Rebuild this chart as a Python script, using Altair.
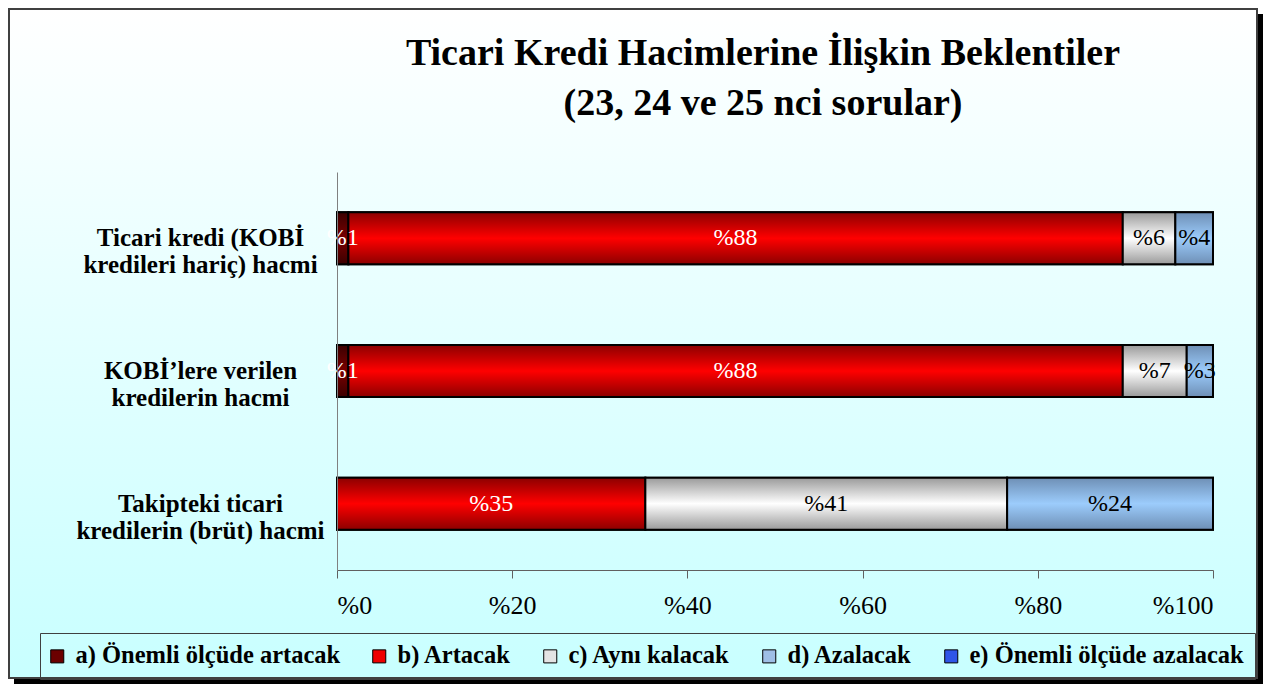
import altair as alt
import pandas as pd

# ---- data ----
rows = [
    "Ticari kredi (KOBİ|kredileri hariç) hacmi",
    "KOBİ’lere verilen|kredilerin hacmi",
    "Takipteki ticari|kredilerin (brüt) hacmi",
]
categories = [
    "a) Önemli ölçüde artacak",
    "b) Artacak",
    "c) Aynı kalacak",
    "d) Azalacak",
    "e) Önemli ölçüde azalacak",
]
a_vals = [1.3, 1.3, 0.0]
b_vals = [88.4, 88.4, 35.2]
c_vals = [6.0, 7.3, 41.3]
d_vals = [4.3, 3.0, 23.5]
e_vals = [0.0, 0.0, 0.0]
x_ticks = [0, 20, 40, 60, 80, 100]
title_line1 = "Ticari Kredi Hacimlerine İlişkin Beklentiler"
title_line2 = "(23, 24 ve 25 nci sorular)"

legend_colors = ["#6b0000", "#ee0000", "#e4e4e4", "#9fbfe6", "#2f55e8"]
grad_colors = [("#3a0000", "#7a0000"), ("#8c0000", "#ff0000"), ("#9a9a9a", "#ffffff"),
               ("#6e8fb5", "#9cccfc"), ("#1a3aa0", "#3366ff")]

series = [a_vals, b_vals, c_vals, d_vals, e_vals]
records = []
for ci, (cat, vals) in enumerate(zip(categories, series)):
    for ri, row in enumerate(rows):
        if vals[ri] > 0:
            records.append({"row": row, "cat": cat, "order": ci, "value": vals[ri]})
df = pd.DataFrame(records)

SERIF = "Liberation Serif"


def grad(edge, mid):
    return alt.LinearGradient(
        gradient="linear", x1=0, y1=0, x2=0, y2=1,
        stops=[alt.GradientStop(color=edge, offset=0),
               alt.GradientStop(color=mid, offset=0.5),
               alt.GradientStop(color=edge, offset=1)],
    )


one = pd.DataFrame({"k": [0]})
shadow = alt.Chart(one).mark_rect(fill="black").encode(
    x=alt.value(-323), x2=alt.value(926), y=alt.value(-158), y2=alt.value(512))
frame = alt.Chart(one).mark_rect(
    fill=alt.LinearGradient(gradient="linear", x1=0, y1=0, x2=0, y2=1,
                            stops=[alt.GradientStop(color="#ffffff", offset=0),
                                   alt.GradientStop(color="#c8ffff", offset=1)]),
    stroke="#404040", strokeWidth=2,
).encode(x=alt.value(-328), x2=alt.value(920), y=alt.value(-163), y2=alt.value(506))

title1 = alt.Chart(one).mark_text(
    font=SERIF, fontSize=38, fontWeight="bold", color="black", align="center",
    baseline="alphabetic",
).encode(x=alt.value(426), y=alt.value(-107), text=alt.value(title_line1))
title2 = alt.Chart(one).mark_text(
    font=SERIF, fontSize=38, fontWeight="bold", color="black", align="center",
    baseline="alphabetic",
).encode(x=alt.value(426), y=alt.value(-57), text=alt.value(title_line2))

xenc = alt.X("x0:Q", scale=alt.Scale(domain=[0, 100], nice=False),
             axis=alt.Axis(values=x_ticks, labelExpr="'%' + datum.value", title=None,
                           grid=False, tickSize=8, labelPadding=14, labelFontSize=26,
                           labelFont=SERIF, labelColor="black", domainColor="#606060",
                           tickColor="#606060", labelFontWeight="normal", zindex=1))
yenc = alt.Y("row:N", sort=rows, scale=alt.Scale(domain=rows, paddingInner=0, paddingOuter=0),
             axis=alt.Axis(title=None, ticks=False, labelExpr="split(datum.label, '|')",
                           labelAlign="center", labelPadding=137, labelFont=SERIF,
                           labelFontSize=25, labelFontWeight="bold", labelColor="black",
                           labelLineHeight=27, labelLimit=400, labelBaseline="middle",
                           domainColor="#808080", zindex=1))

base = alt.Chart(df).transform_stack(
    stack="value", groupby=["row"], as_=["x0", "x1"], sort=[alt.SortField("order")]
)

legend_layer = base.mark_bar(size=52, stroke="black", strokeWidth=2).encode(
    x=xenc, x2="x1:Q", y=yenc,
    color=alt.Color("cat:N", scale=alt.Scale(domain=categories, range=legend_colors),
                    legend=alt.Legend(title=None, orient="none", legendX=-297, legendY=461,
                                      direction="horizontal", columns=5, columnPadding=29,
                                      symbolType="square", symbolSize=170,
                                      symbolStrokeColor="black", symbolStrokeWidth=1,
                                      symbolOffset=-6,
                                      labelFont=SERIF, labelFontSize=24.5,
                                      labelFontWeight="bold", labelColor="black",
                                      labelOffset=6, labelLimit=400,
                                      strokeColor="#404040", padding=11, zindex=2)),
)

grad_layers = []
for ci, cat in enumerate(categories[:4]):
    edge, mid = grad_colors[ci]
    grad_layers.append(
        base.transform_filter(alt.datum.order == ci).mark_bar(
            size=52, fill=grad(edge, mid), stroke="black", strokeWidth=2
        ).encode(x="x0:Q", x2="x1:Q", y=alt.Y("row:N", sort=rows))
    )

labels = base.transform_calculate(
    mid="(datum.x0 + datum.x1) / 2", lbl="'%' + round(datum.value)"
).mark_text(font=SERIF, fontSize=24, baseline="middle", align="center").encode(
    x="mid:Q", y=alt.Y("row:N", sort=rows), text="lbl:N",
    color=alt.condition("datum.order < 2", alt.value("white"), alt.value("black")),
)

chart = alt.layer(shadow, frame, title1, title2, legend_layer, *grad_layers, labels).properties(
    width=876, height=398,
    padding={"left": 329, "top": 164, "right": 50, "bottom": 122},
    autosize=alt.AutoSizeParams(type="none"),
).configure_view(stroke=None).configure(background="white")

chart.save("out.html", embed_options={"renderer": "svg", "actions": False})
